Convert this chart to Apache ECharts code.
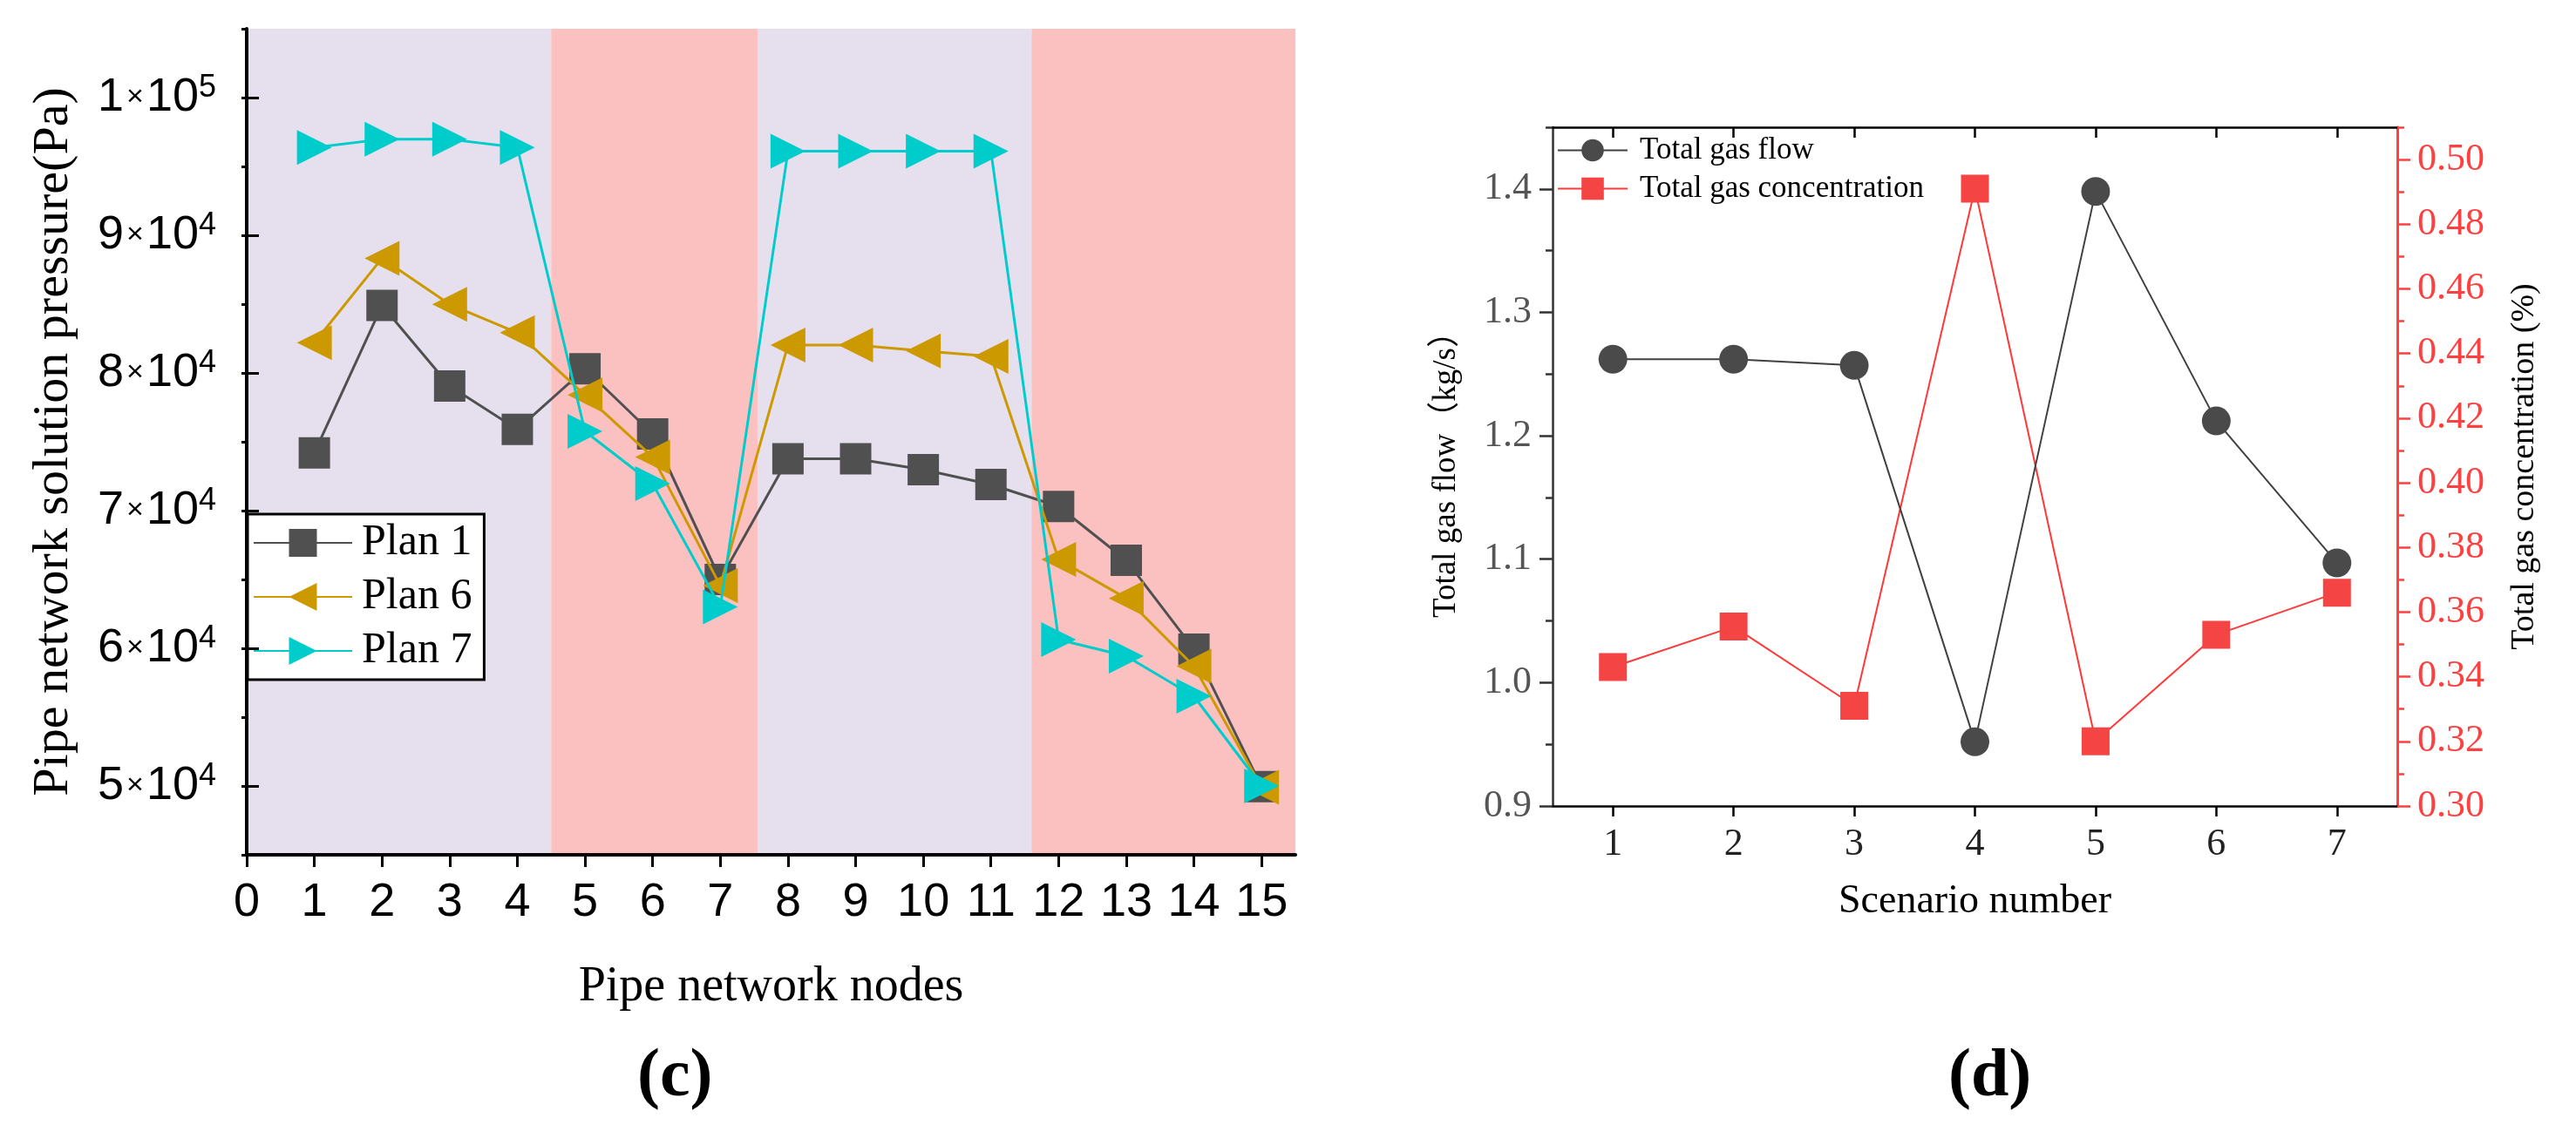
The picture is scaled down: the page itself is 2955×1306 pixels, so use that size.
<!DOCTYPE html>
<html>
<head>
<meta charset="utf-8">
<script src="https://cdn.jsdelivr.net/npm/echarts@6.0.0/dist/echarts.min.js"></script>
<style>
    html, body { margin: 0; padding: 0; background: #fff; }
    #main { width: 2955px; height: 1306px; }
</style>
</head>
<body>
<div id="main"></div>
<script>
// (c) pipe network pressure
var nodes = [1, 2, 3, 4, 5, 6, 7, 8, 9, 10, 11, 12, 13, 14, 15];
var plan1 = [74200, 84900, 79050, 75900, 80300, 75570, 65000, 73760, 73760, 72970, 71900, 70300, 66390, 59940, 49950];
var plan6 = [82200, 88330, 84980, 82920, 78400, 73900, 64550, 82030, 82030, 81600, 81200, 66450, 63630, 58700, 49900];
var plan7 = [96370, 96970, 96970, 96370, 75760, 71960, 63000, 96100, 96100, 96100, 96100, 60630, 59430, 56520, 50000];
var nodeTicks = [0, 1, 2, 3, 4, 5, 6, 7, 8, 9, 10, 11, 12, 13, 14, 15];
var pressureTicks = [50000, 60000, 70000, 80000, 90000, 100000];
// shaded zones along the node axis
var bandEdges = [[0, 4.5], [4.5, 7.55], [7.55, 11.6], [11.6, 15.5]];

// (d) scenarios
var scenarios = [1, 2, 3, 4, 5, 6, 7];
var gasFlow = [1.262, 1.262, 1.257, 0.952, 1.398, 1.212, 1.097];
var gasConc = [0.343, 0.3555, 0.331, 0.491, 0.320, 0.353, 0.366];
var flowTicks = [0.9, 1.0, 1.1, 1.2, 1.3, 1.4];
var concTicks = [0.30, 0.32, 0.34, 0.36, 0.38, 0.40, 0.42, 0.44, 0.46, 0.48, 0.50];

var serif = "'Liberation Serif', 'Times New Roman', 'Noto Sans CJK SC', serif";
var narrow = "'Liberation Sans Narrow', 'Liberation Sans', sans-serif";
var bandColors = ['#e6e0ee', '#fbc0c0'];

function pairs(xs, ys) {
    var out = [];
    for (var i = 0; i < xs.length; i++) {
        out.push([xs[i], ys[i]]);
    }
    return out;
}

var bands = [];
for (var b = 0; b < bandEdges.length; b++) {
    bands.push([
        {xAxis: bandEdges[b][0], itemStyle: {color: bandColors[b % 2]}},
        {xAxis: bandEdges[b][1]}
    ]);
}

var dom = document.getElementById('main');
var chart = echarts.init(dom);

var option = {
    animation: false,
    backgroundColor: '#fff',
    grid: [
        {left: 283, right: 1469, top: 33, bottom: 325},
        {left: 1781, right: 205, top: 146, bottom: 381}
    ],
    graphic: [
        {type: 'text', left: 731, top: 1198, style: {text: '(c)', font: 'bold 78px ' + serif, fill: '#000'}},
        {type: 'text', left: 2235, top: 1198, style: {text: '(d)', font: 'bold 78px ' + serif, fill: '#000'}}
    ],
    legend: [
        {
            data: ['Plan 1', 'Plan 6', 'Plan 7'],
            orient: 'vertical',
            left: 284,
            top: 590,
            padding: [8, 14, 8, 6],
            itemWidth: 113,
            itemHeight: 40,
            itemGap: 12,
            backgroundColor: '#fff',
            borderColor: '#000',
            borderWidth: 3,
            borderRadius: 0,
            textStyle: {fontFamily: serif, fontSize: 50, lineHeight: 50, color: '#000', padding: [0, 0, 0, 6]}
        },
        {
            data: ['Total gas flow', 'Total gas concentration'],
            orient: 'vertical',
            left: 1786,
            top: 155,
            padding: 0,
            itemWidth: 80,
            itemHeight: 32,
            itemGap: 9,
            textStyle: {fontFamily: serif, fontSize: 35, lineHeight: 35, color: '#000', padding: [0, 0, 0, 9]}
        }
    ],
    xAxis: [
        {
            type: 'value', gridIndex: 0, min: 0, max: 15.5, z: 10,
            name: 'Pipe network nodes', nameLocation: 'middle', nameGap: 124,
            nameTextStyle: {fontFamily: serif, fontSize: 56, color: '#000'},
            axisLine: {onZero: false, lineStyle: {color: '#000', width: 4}},
            axisTick: {customValues: nodeTicks, length: 14, lineStyle: {color: '#000', width: 3}},
            axisLabel: {customValues: nodeTicks, margin: 28, fontFamily: narrow, fontSize: 54, color: '#000'},
            splitLine: {show: false}
        },
        {
            type: 'value', gridIndex: 1, min: 0.5, max: 7.5, position: 'bottom',
            name: 'Scenario number', nameLocation: 'middle', nameGap: 87,
            nameTextStyle: {fontFamily: serif, fontSize: 46, color: '#000'},
            axisLine: {onZero: false, lineStyle: {color: '#000', width: 2.5}},
            axisTick: {customValues: scenarios, length: 12, lineStyle: {color: '#000', width: 2.5}},
            axisLabel: {customValues: scenarios, margin: 22, fontFamily: serif, fontSize: 44, color: '#222'},
            splitLine: {show: false}
        },
        {
            type: 'value', gridIndex: 1, min: 0.5, max: 7.5, position: 'top',
            axisLine: {onZero: false, lineStyle: {color: '#000', width: 2.5}},
            axisTick: {customValues: scenarios, inside: true, length: 12, lineStyle: {color: '#000', width: 2.5}},
            axisLabel: {show: false},
            splitLine: {show: false}
        }
    ],
    yAxis: [
        {
            type: 'value', gridIndex: 0, min: 45000, max: 105000, interval: 5000, z: 10,
            name: 'Pipe network solution pressure(Pa)', nameLocation: 'middle', nameGap: 192, nameRotate: 90,
            nameTextStyle: {fontFamily: serif, fontSize: 58, color: '#000'},
            axisLine: {show: true, onZero: false, lineStyle: {color: '#000', width: 4}},
            axisTick: {show: true, length: 6, lineStyle: {color: '#000', width: 3}},
            axisLabel: {
                customValues: pressureTicks, margin: 35,
                formatter: function (v) {
                    var m = Math.round(v / 10000);
                    if (m === 10) {
                        return '{a|1}{x|×}{a|10}{s|5}';
                    }
                    return '{a|' + m + '}{x|×}{a|10}{s|4}';
                },
                rich: {
                    a: {fontFamily: narrow, fontSize: 54, lineHeight: 58, color: '#000'},
                    x: {fontFamily: narrow, fontSize: 34, color: '#000', padding: [0, 3, 0, 3]},
                    s: {fontFamily: narrow, fontSize: 36, color: '#000', verticalAlign: 'top'}
                }
            },
            splitLine: {show: false}
        },
        {
            type: 'value', gridIndex: 0, min: 45000, max: 105000, interval: 5000, z: 10,
            axisLine: {show: false},
            axisTick: {show: true, customValues: pressureTicks, length: 14, lineStyle: {color: '#000', width: 3}},
            axisLabel: {show: false},
            splitLine: {show: false}
        },
        {
            type: 'value', gridIndex: 1, min: 0.9, max: 1.45, interval: 0.05, position: 'left',
            name: 'Total gas flow（kg/s）', nameLocation: 'middle', nameGap: 103, nameRotate: 90,
            nameTextStyle: {fontFamily: serif, fontSize: 37, color: '#000'},
            axisLine: {show: true, onZero: false, lineStyle: {color: '#333', width: 2.5}},
            axisTick: {show: true, length: 8, lineStyle: {color: '#333', width: 2.5}},
            axisLabel: {
                customValues: flowTicks, margin: 24, fontFamily: serif, fontSize: 44, color: '#555',
                formatter: function (v) { return v.toFixed(1); }
            },
            splitLine: {show: false}
        },
        {
            type: 'value', gridIndex: 1, min: 0.9, max: 1.45, interval: 0.05, position: 'left',
            axisLine: {show: false},
            axisTick: {show: true, customValues: flowTicks, length: 15, lineStyle: {color: '#333', width: 2.5}},
            axisLabel: {show: false},
            splitLine: {show: false}
        },
        {
            type: 'value', gridIndex: 1, min: 0.30, max: 0.51, interval: 0.01, position: 'right',
            name: 'Total gas concentration (%)', nameLocation: 'middle', nameGap: 127, nameRotate: 90,
            nameTextStyle: {fontFamily: serif, fontSize: 38, color: '#000'},
            axisLine: {show: true, onZero: false, lineStyle: {color: '#ff4040', width: 3}},
            axisTick: {show: true, length: 8, lineStyle: {color: '#ff4040', width: 2.5}},
            axisLabel: {
                customValues: concTicks, margin: 23, fontFamily: serif, fontSize: 44, color: '#ff4040',
                formatter: function (v) { return v.toFixed(2); }
            },
            splitLine: {show: false}
        },
        {
            type: 'value', gridIndex: 1, min: 0.30, max: 0.51, interval: 0.01, position: 'right',
            axisLine: {show: false},
            axisTick: {show: true, customValues: concTicks, length: 15, lineStyle: {color: '#ff4040', width: 2.5}},
            axisLabel: {show: false},
            splitLine: {show: false}
        }
    ],
    series: [
        {
            // only carries the background zones
            name: 'zones', type: 'line', xAxisIndex: 0, yAxisIndex: 0, data: [], z: 1,
            markArea: {silent: true, data: bands}
        },
        {
            name: 'Plan 1', type: 'line', xAxisIndex: 0, yAxisIndex: 0, z: 3,
            data: pairs(nodes, plan1),
            symbol: 'rect', symbolSize: 36,
            lineStyle: {color: '#505050', width: 3},
            itemStyle: {color: '#505050'}
        },
        {
            name: 'Plan 6', type: 'line', xAxisIndex: 0, yAxisIndex: 0, z: 4,
            data: pairs(nodes, plan6),
            symbol: 'triangle', symbolSize: 40, symbolRotate: 90,
            lineStyle: {color: '#cc9900', width: 3},
            itemStyle: {color: '#cc9900'}
        },
        {
            name: 'Plan 7', type: 'line', xAxisIndex: 0, yAxisIndex: 0, z: 5,
            data: pairs(nodes, plan7),
            symbol: 'triangle', symbolSize: 40, symbolRotate: -90,
            lineStyle: {color: '#00cccc', width: 3},
            itemStyle: {color: '#00cccc'}
        },
        {
            name: 'Total gas flow', type: 'line', xAxisIndex: 1, yAxisIndex: 2, z: 4,
            data: pairs(scenarios, gasFlow),
            symbol: 'circle', symbolSize: 33,
            lineStyle: {color: '#404040', width: 2},
            itemStyle: {color: '#4a4a4a'}
        },
        {
            name: 'Total gas concentration', type: 'line', xAxisIndex: 1, yAxisIndex: 4, z: 3,
            data: pairs(scenarios, gasConc),
            symbol: 'rect', symbolSize: 32,
            lineStyle: {color: '#ff3838', width: 2},
            itemStyle: {color: '#f44444'}
        }
    ]
};
chart.setOption(option);
</script>
</body>
</html>
